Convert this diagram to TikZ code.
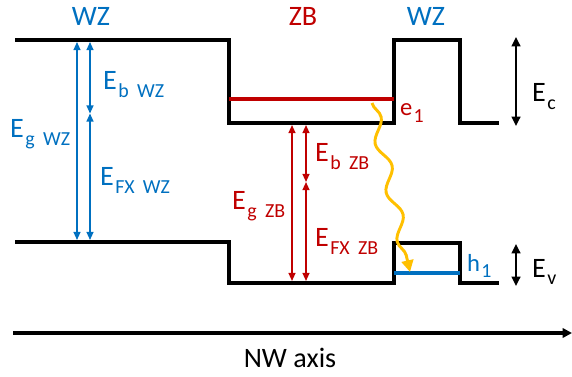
\documentclass[tikz,border=0pt]{standalone}
\usepackage{fontspec}
\setmainfont{Carlito}
\usepackage{tikz}
\usetikzlibrary{arrows.meta,decorations.pathmorphing}
\definecolor{wzblue}{HTML}{0070C0}
\definecolor{zbred}{HTML}{C00000}
\definecolor{photon}{HTML}{FFC000}
\newcommand{\Elbl}[2]{#1\hspace{0.05em}\raisebox{-0.27em}{\fontsize{17}{19}\selectfont\spaceskip=0.42em #2}}

\begin{document}
\begin{tikzpicture}[
    x=0.03cm, y=-0.03cm,
    >=Latex,
    every node/.style={font=\fontsize{24}{28}\selectfont,inner sep=0pt},
    band/.style={line width=3.4pt,line join=miter},
    level/.style={line width=2.6pt},
    gaparrow/.style={line width=1.3pt,{Triangle[length=7pt,width=6pt]}-{Triangle[length=7pt,width=6pt]}},
    offarrow/.style={line width=1.7pt,{Triangle[length=8pt,width=7.5pt]}-{Triangle[length=8pt,width=7.5pt]}}
]
\useasboundingbox (0,0) rectangle (572,377);

% band edges
\draw[band] (15,40) -- (229,40) -- (229,123) -- (394,123) -- (394,40) -- (460,40) -- (460,123) -- (499,123);
\draw[band] (15,242) -- (229,242) -- (229,283) -- (394,283) -- (394,243) -- (460,243) -- (460,283) -- (499,283);

% confined levels
\coordinate (e1L) at (229,99);
\coordinate (e1R) at (394,99);
\coordinate (h1L) at (394,273);
\coordinate (h1R) at (460,273);
\draw[level,zbred] (e1L) -- (e1R);
\draw[level,wzblue] (h1L) -- (h1R);

% phase labels
\node[wzblue] (wzL) at (91,16) {WZ};
\node[zbred] (zb) at (303,16) {ZB};
\node[wzblue] (wzR) at (426,16) {WZ};

% WZ gap
\coordinate (gWtop) at (77,42);
\coordinate (gWbot) at (77,240);
\coordinate (bWtop) at (90,42);
\coordinate (bWmid) at (90,113.5);
\coordinate (bWbot) at (90,240);
\draw[gaparrow,wzblue] (gWtop) -- (gWbot);
\draw[gaparrow,wzblue] (bWtop) -- (bWmid);
\draw[gaparrow,wzblue] (bWmid) -- (bWbot);
\node[wzblue,anchor=base west] (EgWZ) at (10,138) {\Elbl{E}{g WZ}};
\node[wzblue,anchor=base west] (EbWZ) at (103,90) {\Elbl{E}{b WZ}};
\node[wzblue,anchor=base west] (EfxWZ) at (100,186) {\Elbl{E}{FX WZ}};

% ZB gap
\coordinate (gZtop) at (292,125);
\coordinate (gZbot) at (292,281);
\coordinate (bZtop) at (306,125);
\coordinate (bZmid) at (306,182);
\coordinate (bZbot) at (306,281);
\draw[gaparrow,zbred] (gZtop) -- (gZbot);
\draw[gaparrow,zbred] (bZtop) -- (bZmid);
\draw[gaparrow,zbred] (bZmid) -- (bZbot);
\node[zbred,anchor=base west] (EgZB) at (232,210) {\Elbl{E}{g ZB}};
\node[zbred,anchor=base west] (EbZB) at (315,162) {\Elbl{E}{b ZB}};
\node[zbred,anchor=base west] (EfxZB) at (315,247) {\Elbl{E}{FX ZB}};

% band offsets
\coordinate (cTop) at (516,37);
\coordinate (cBot) at (516,126);
\coordinate (vTop) at (516,244);
\coordinate (vBot) at (516,286);
\draw[offarrow] (cTop) -- (cBot);
\draw[offarrow] (vTop) -- (vBot);
\node[anchor=base west] (Ec) at (532,102) {\Elbl{E}{c}};
\node[anchor=base west] (Ev) at (532,277) {\Elbl{E}{v}};

% levels and transition
\node[zbred,anchor=base west,font=\fontsize{21}{24}\selectfont] (e1) at (400,116) {\Elbl{e}{1}};
\node[wzblue,anchor=base west,font=\fontsize{21}{24}\selectfont] (h1) at (467,271) {\Elbl{h}{1}};
\coordinate (emit) at (372,103);
\coordinate (absorb) at (410,272);
\draw[photon,line width=2.5pt,decorate,
      decoration={snake,amplitude=5pt,segment length=1.5cm,post length=9pt},
      -{Triangle[length=10pt,width=10pt]}] (emit) -- (absorb);

% axis
\coordinate (axL) at (13,333);
\coordinate (axR) at (572,333);
\draw[line width=3.2pt,-{Triangle[length=8pt,width=8pt]}] (axL) -- (axR);
\node (nw) at (290,358) {NW axis};
\end{tikzpicture}
\end{document}
